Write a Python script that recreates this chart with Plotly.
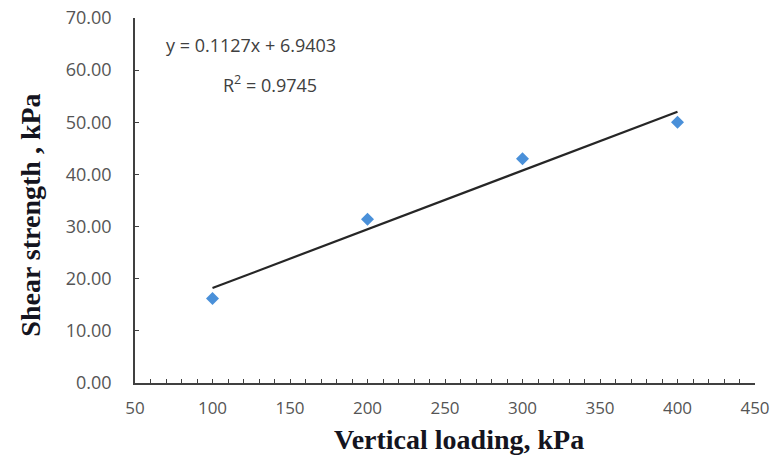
import numpy as np
import plotly.graph_objects as go

vertical_loading = [100, 200, 300, 400]
shear_strength = [16.2, 31.4, 43.0, 50.0]
slope = 0.1127
intercept = 6.9403
eq_text = "y = 0.1127x + 6.9403"
r2_text = "R<sup>2</sup> = 0.9745"
x_title = "<b>Vertical loading, kPa</b>"
y_title = "<b>Shear strength , kPa</b>"
x_ticks = [50, 100, 150, 200, 250, 300, 350, 400, 450]
y_ticks = [0, 10, 20, 30, 40, 50, 60, 70]

trend_x = [min(vertical_loading), max(vertical_loading)]
trend_y = [slope * v + intercept for v in trend_x]

fig = go.Figure()
fig.add_trace(go.Scatter(x=trend_x, y=trend_y, mode="lines",
                         line=dict(color="#262626", width=2.2), showlegend=False,
                         hoverinfo="skip"))
fig.add_trace(go.Scatter(x=vertical_loading, y=shear_strength, mode="markers",
                         marker=dict(symbol="diamond", size=10, color="#4A90D9"),
                         showlegend=False))

tick_font = dict(family="Open Sans, Liberation Sans, sans-serif", size=18, color="#555555")
xtick_font = dict(family="Open Sans, Liberation Sans, sans-serif", size=17, color="#555555")
title_font = dict(family="Liberation Serif, Times New Roman, serif", size=28, color="#141420")

fig.update_layout(
    width=772, height=461,
    margin=dict(l=135, r=17, t=18, b=78),
    paper_bgcolor="white", plot_bgcolor="white",
    xaxis=dict(range=[50, 450], tickvals=x_ticks, ticktext=[str(v) for v in x_ticks],
               automargin=False,
               showgrid=False, zeroline=False, showline=True, linecolor="#404040", linewidth=1.5,
               ticks="inside", ticklen=4, tickcolor="#404040",
               minor=dict(dtick=10, ticks="inside", ticklen=4, tickcolor="#404040", showgrid=False),
               tickfont=xtick_font, ticklabelstandoff=9),
    yaxis=dict(range=[0, 70], tickvals=y_ticks, ticktext=[f"{v:.2f}" for v in y_ticks],
               automargin=False,
               showgrid=False, zeroline=False, showline=True, linecolor="#404040", linewidth=1.5,
               ticks="inside", ticklen=4, tickcolor="#404040",
               tickfont=tick_font, ticklabelstandoff=18),
)

fig.add_annotation(x=0.522, y=-0.156, xref="paper", yref="paper", text=x_title,
                   showarrow=False, font=title_font, xanchor="center", yanchor="middle")
fig.add_annotation(x=-0.1685, y=0.46, xref="paper", yref="paper", text=y_title,
                   showarrow=False, font=title_font, xanchor="center", yanchor="middle",
                   textangle=-90)

ann_font = dict(family="Open Sans, Liberation Sans, sans-serif", size=18, color="#404040")
fig.add_annotation(x=0.046, y=0.926, xref="paper", yref="paper", text=eq_text,
                   showarrow=False, font=ann_font, xanchor="left", yanchor="middle")
fig.add_annotation(x=0.217, y=0.82, xref="paper", yref="paper", text=r2_text,
                   showarrow=False, font=ann_font, xanchor="center", yanchor="middle")

fig.write_html("out.html")
